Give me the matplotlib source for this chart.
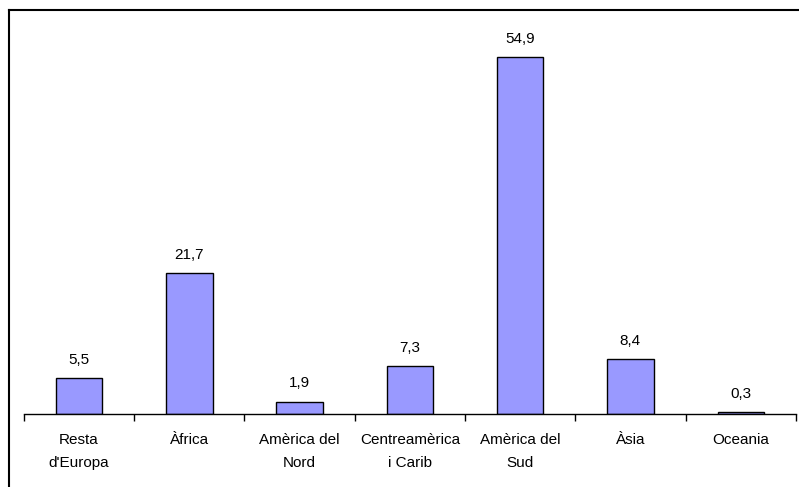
import matplotlib.pyplot as plt
from matplotlib.lines import Line2D

plt.rcParams['font.family'] = ['Liberation Sans', 'DejaVu Sans']

categories = ["Resta\nd'Europa", "Àfrica", "Amèrica del\nNord", "Centreamèrica\ni Carib",
              "Amèrica del\nSud", "Àsia", "Oceania"]
values = [5.5, 21.7, 1.9, 7.3, 54.9, 8.4, 0.3]
value_labels = ["5,5", "21,7", "1,9", "7,3", "54,9", "8,4", "0,3"]

fig = plt.figure(figsize=(7.99, 4.87), dpi=100)
ax = fig.add_axes([0.030, 0.150, 0.966, 0.829])

x = range(len(categories))
ax.bar(x, values, width=0.42, color="#9999FF", edgecolor="black", linewidth=1)

for i, v in enumerate(values):
    ax.annotate(value_labels[i], (i, v), xytext=(0, 8), textcoords="offset points",
                ha="center", va="bottom", fontsize=11)

ax.set_xlim(-0.5, len(categories) - 0.5)
ax.set_ylim(0, 62.1)

for s in ["top", "right", "left"]:
    ax.spines[s].set_visible(False)
ax.spines["bottom"].set_linewidth(1)
ax.spines["bottom"].set_color("black")
ax.set_yticks([])

ax.set_xticks([i - 0.5 for i in range(len(categories) + 1)], minor=False)
ax.set_xticklabels([])
ax.tick_params(axis="x", which="major", length=5, width=1, direction="out")
ax.set_xticks(list(x), minor=True)
ax.set_xticklabels(categories, minor=True, fontsize=11, linespacing=1.75)
ax.tick_params(axis="x", which="minor", length=0, pad=14)

# outer frame (left and top edges visible)
fig.add_artist(Line2D([8.5 / 799, 8.5 / 799], [0, 1 - 9.5 / 487], color="black", lw=1.5,
                      transform=fig.transFigure))
fig.add_artist(Line2D([8.5 / 799, 1], [1 - 9.5 / 487, 1 - 9.5 / 487], color="black", lw=1.5,
                      transform=fig.transFigure))

fig.savefig("out.png", dpi=100)
